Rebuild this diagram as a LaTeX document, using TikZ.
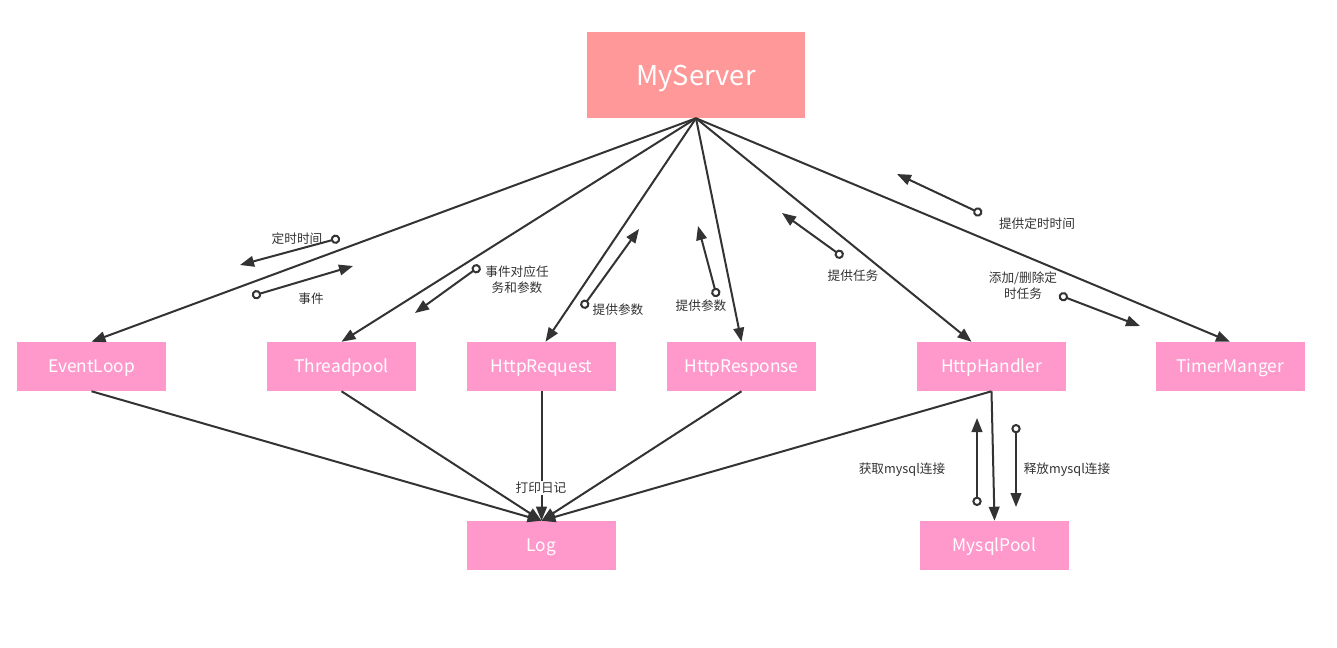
\documentclass[tikz,border=0pt]{standalone}
\usepackage{fontspec}
\setmainfont{Noto Sans CJK SC}
\usetikzlibrary{arrows.meta}
\definecolor{serverred}{HTML}{FF9999}
\definecolor{modpink}{HTML}{FF99CC}
\definecolor{linegray}{HTML}{333333}
\begin{document}
\begin{tikzpicture}[x=0.75pt,y=-0.75pt,
  server/.style={fill=serverred,text=white,minimum width=163.5pt,minimum height=64.5pt,text height=15pt,text depth=0pt,font=\fontsize{20.5}{24}\selectfont},
  module/.style={fill=modpink,text=white,minimum width=111.75pt,minimum height=36.75pt,text height=9.5pt,text depth=0pt,font=\fontsize{13}{15}\selectfont},
  link/.style={draw=linegray,line width=1.5pt,-{Triangle[length=10.5pt,width=8pt]}},
  hint/.style={draw=linegray,line width=1.5pt,{Circle[open,length=7pt,width=7pt,fill=white]}-{Triangle[length=10.5pt,width=8pt]}},
  note/.style={text=linegray,font=\fontsize{9.5}{12}\selectfont,align=center,inner sep=1pt}]
  \useasboundingbox (0,0) rectangle (1337,647);
  \node[server] (srv) at (696,75) {MyServer};
  \node[module] (evl) at (91.5,366.5) {EventLoop};
  \node[module] (thr) at (341.5,366.5) {Threadpool};
  \node[module] (req) at (541.5,366.5) {HttpRequest};
  \node[module] (rsp) at (741.5,366.5) {HttpResponse};
  \node[module] (hdl) at (991.5,366.5) {HttpHandler};
  \node[module] (tmr) at (1230,366.5) {TimerManger};
  \node[module] (log) at (541.5,545.5) {Log};
  \node[module] (sql) at (994.5,545.5) {MysqlPool};
  % server to modules
  \draw[link] (srv.south) -- (evl.north);
  \draw[link] (srv.south) -- (thr.north);
  \draw[link] (srv.south) -- ([xshift=3pt]req.north);
  \draw[link] (srv.south) -- (rsp.north);
  \draw[link] (srv.south) -- ([xshift=-15pt]hdl.north);
  \draw[link] (srv.south) -- (tmr.north);
  % modules to log
  \draw[link] (evl.south) -- (log.north);
  \draw[link] (thr.south) -- (log.north);
  \draw[link] (req.south) -- (log.north);
  \draw[link] (rsp.south) -- (log.north);
  \draw[link] (hdl.south) -- (log.north);
  \draw[link] (hdl.south) -- (sql.north);
  \node[note,fill=white] (logtxt) at (541,488) {打印日记};
  % hints
  \coordinate (h1s) at (340,238); \coordinate (h1e) at (240,265);
  \coordinate (h2s) at (252,296); \coordinate (h2e) at (353,266);
  \coordinate (h3s) at (480,266); \coordinate (h3e) at (415,313);
  \coordinate (h4s) at (582,308); \coordinate (h4e) at (639,229);
  \coordinate (h5s) at (717,297); \coordinate (h5e) at (698,226);
  \coordinate (h6s) at (843,257); \coordinate (h6e) at (782,213);
  \coordinate (h7s) at (982,214); \coordinate (h7e) at (897,174);
  \coordinate (h8s) at (1059,295); \coordinate (h8e) at (1140,326);
  \coordinate (h9s) at (977,506); \coordinate (h9e) at (977,418);
  \coordinate (h10s) at (1016,424); \coordinate (h10e) at (1016,507);
  \draw[hint] (h1s) -- (h1e);
  \draw[hint] (h2s) -- (h2e);
  \draw[hint] (h3s) -- (h3e);
  \draw[hint] (h4s) -- (h4e);
  \draw[hint] (h5s) -- (h5e);
  \draw[hint] (h6s) -- (h6e);
  \draw[hint] (h7s) -- (h7e);
  \draw[hint] (h8s) -- (h8e);
  \draw[hint] (h9s) -- (h9e);
  \draw[hint] (h10s) -- (h10e);
  \node[note] (n1) at (297,239) {定时时间};
  \node[note] (n2) at (311,299) {事件};
  \node[note] (n3) at (517,280) {事件对应任\\务和参数};
  \node[note] (n4) at (618,310) {提供参数};
  \node[note] (n5) at (701,306) {提供参数};
  \node[note] (n6) at (853,276) {提供任务};
  \node[note] (n7) at (1037,224) {提供定时时间};
  \node[note] (n8) at (1023,286) {添加/删除定\\时任务};
  \node[note] (n9) at (902,470) {获取mysql连接};
  \node[note] (n10) at (1067,470) {释放mysql连接};
\end{tikzpicture}
\end{document}
